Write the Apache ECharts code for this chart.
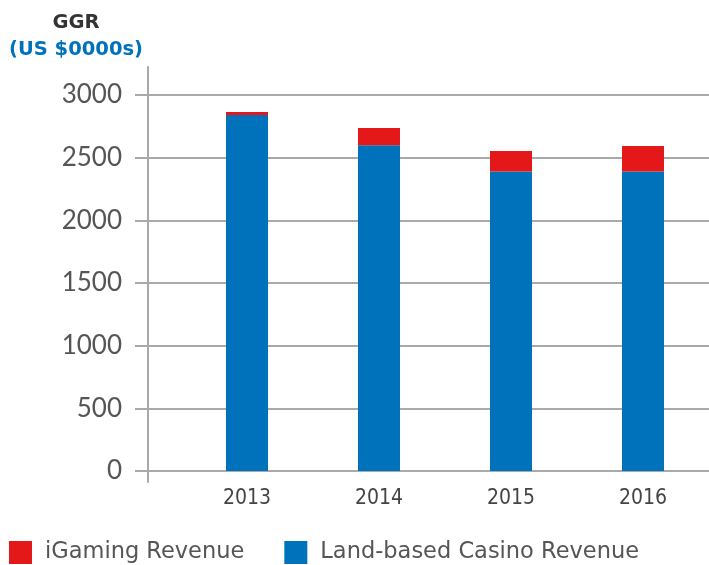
<!DOCTYPE html>
<html>
<head>
<meta charset="utf-8">
<script src="https://cdn.jsdelivr.net/npm/echarts@6/dist/echarts.min.js"></script>
<style>html,body{margin:0;padding:0;background:#fff}#c{width:709px;height:565px}</style>
</head>
<body>
<div id="c"></div>
<script>
const categories = ['2013', '2014', '2015', '2016'];
const landBased = [2840, 2600, 2390, 2390];
const iGaming = [25, 137, 163, 203];
const yTicks = [0, 500, 1000, 1500, 2000, 2500, 3000];

const GRAY = '#a9a9a9';
const chart = echarts.init(document.getElementById('c'));
chart.setOption({
  animation: false,
  title: [
    {text: 'GGR', left: 71, top: 8, textAlign: 'center',
     textStyle: {fontFamily: 'DejaVu Sans', fontWeight: 'bold', fontSize: 19.5, color: '#333'}},
    {text: '(US $0000s)', left: 71, top: 35, textAlign: 'center',
     textStyle: {fontFamily: 'DejaVu Sans', fontWeight: 'bold', fontSize: 19.5, color: '#0071bb'}}
  ],
  legend: {
    left: 9, top: 541, padding: 0, itemWidth: 23, itemHeight: 23, itemGap: 40,
    icon: 'rect',
    data: ['iGaming Revenue', 'Land-based Casino Revenue'],
    textStyle: {fontFamily: 'DejaVu Sans', fontSize: 22.5, color: '#555', padding: [3, 0, 0, 8]}
  },
  grid: [
    {left: 181, right: 0, top: 95, bottom: 94},
    {left: 148, right: 0, top: 67, bottom: 83}
  ],
  xAxis: [
    {type: 'category', gridIndex: 0, data: categories, boundaryGap: true,
     axisLine: {lineStyle: {color: GRAY, width: 2}},
     axisTick: {length: 11, lineStyle: {color: GRAY, width: 2}, interval: function (i) { return i !== 0; }},
     axisLabel: {margin: 17, fontFamily: 'DejaVu Sans Condensed', fontSize: 21, color: '#444'}},
    {type: 'category', gridIndex: 1, data: categories, show: false}
  ],
  yAxis: [
    {type: 'value', gridIndex: 0, min: 0, max: 3000, interval: 500, offset: 33,
     axisLine: {show: false},
     axisTick: {show: true, length: 13, lineStyle: {color: GRAY, width: 2}},
     axisLabel: {margin: 26, fontFamily: 'Lato', fontSize: 26, color: '#555',
       formatter: function (v) { return yTicks.indexOf(v) >= 0 ? String(v) : ''; }},
     splitLine: {lineStyle: {color: GRAY, width: 2}}},
    {type: 'value', gridIndex: 0, min: 0, max: 3000, interval: 500, offset: 33, position: 'left',
     axisLine: {show: false},
     axisTick: {show: true, inside: true, length: 33, lineStyle: {color: GRAY, width: 2}},
     axisLabel: {show: false}, splitLine: {show: false}},
    {type: 'value', gridIndex: 1, min: 0, max: 1,
     axisLine: {show: true, lineStyle: {color: GRAY, width: 2}},
     axisTick: {show: false}, axisLabel: {show: false}, splitLine: {show: false}}
  ],
  series: [
    {name: 'Land-based Casino Revenue', type: 'bar', stack: 'g', xAxisIndex: 0, yAxisIndex: 0,
     barWidth: 42, data: landBased, itemStyle: {color: '#0071bb'}},
    {name: 'iGaming Revenue', type: 'bar', stack: 'g', xAxisIndex: 0, yAxisIndex: 0,
     barWidth: 42, data: iGaming, itemStyle: {color: '#e41719'}}
  ]
});
</script>
</body>
</html>
